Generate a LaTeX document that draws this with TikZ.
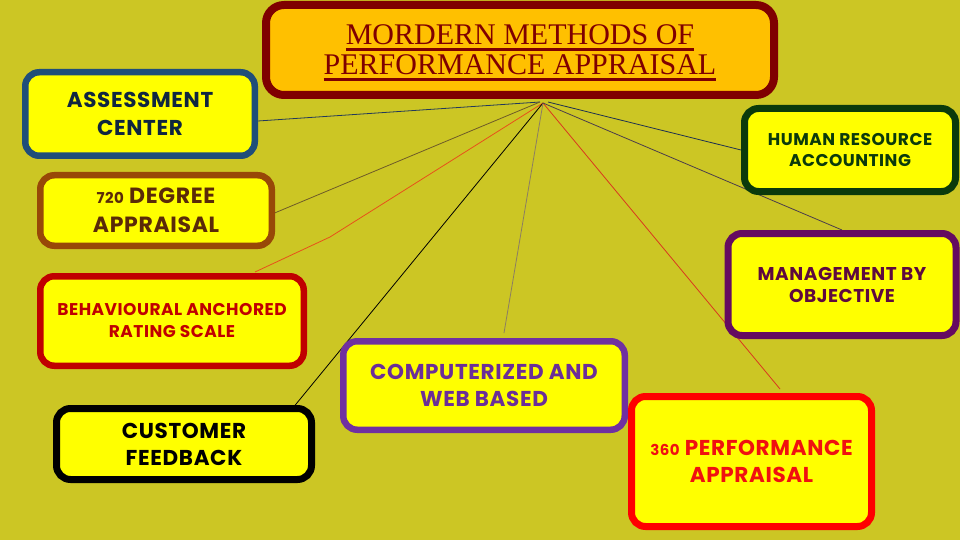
\documentclass[tikz,border=0pt]{standalone}
\usepackage{fontspec}
\setmainfont{Poppins}[LetterSpace=3]
\newfontfamily\titlefont{Liberation Serif}
\usetikzlibrary{calc}
\pgfdeclarelayer{bg}
\pgfdeclarelayer{wires}
\pgfsetlayers{bg,wires,main}
\definecolor{bgc}{HTML}{CCC624}
\definecolor{boxfill}{HTML}{FFFF00}
\definecolor{titleb}{HTML}{7F0000}
\definecolor{titlef}{HTML}{FFC000}
\definecolor{ascB}{HTML}{1F4E79}
\definecolor{ascT}{HTML}{0F2640}
\definecolor{dB}{HTML}{984807}
\definecolor{dT}{HTML}{5A2A08}
\definecolor{behB}{HTML}{C00000}
\definecolor{custB}{HTML}{000000}
\definecolor{compB}{HTML}{7030A0}
\definecolor{compT}{HTML}{6B2E98}
\definecolor{hrB}{HTML}{0B3A0B}
\definecolor{mboB}{HTML}{650B60}
\definecolor{mboT}{HTML}{5E0A3E}
\definecolor{pB}{HTML}{FF0000}
\definecolor{pT}{HTML}{F01010}
\definecolor{wAsc}{HTML}{23395B}
\definecolor{wDeg}{HTML}{6E5A28}
\definecolor{wBeh}{HTML}{E8501A}
\definecolor{wComp}{HTML}{8C7E62}
\definecolor{wP}{HTML}{D9381E}
\definecolor{wMbo}{HTML}{4B3D4B}
\definecolor{wHr}{HTML}{1E3050}
\newlength\ulw
\newcommand\myul[1]{\settowidth\ulw{#1}\rlap{\smash{\rule[-6pt]{\ulw}{2.6pt}}}#1}
\begin{document}
\begin{tikzpicture}[x=1pt,y=-1pt,
  box/.style={draw, fill=boxfill, rounded corners=14pt, line width=6.5pt, inner sep=0pt, align=center},
  wire/.style={line width=0.8pt}]
\begin{pgfonlayer}{bg}
\fill[bgc] (0,0) rectangle (960,540);
\end{pgfonlayer}
\useasboundingbox (0,0) rectangle (960,540);

\node[box, draw=titleb, fill=titlef, line width=8pt, rounded corners=18pt, minimum width=508pt, minimum height=90pt, text=titleb, font=\titlefont\fontsize{30}{30}\selectfont] (title) at (520,50) {\myul{MORDERN METHODS OF}\\\myul{PERFORMANCE APPRAISAL}};

\node[box, draw=ascB, text=ascT, minimum width=229.5pt, minimum height=83.5pt, font=\bfseries\fontsize{21.5}{28}\selectfont] (asc) at (140,114) {ASSESSMENT\\CENTER};

\node[box, draw=dB, text=dT, minimum width=231.5pt, minimum height=70.5pt, font=\bfseries\fontsize{22}{29}\selectfont] (deg) at (156,210.5) {{\fontsize{15}{15}\selectfont 720} DEGREE\\APPRAISAL};

\node[box, draw=behB, text=behB, minimum width=263.5pt, minimum height=89.5pt, font=\bfseries\fontsize{17}{22}\selectfont] (beh) at (172,321) {BEHAVIOURAL ANCHORED\\RATING SCALE};

\node[box, draw=custB, text=custB, line width=7pt, minimum width=255pt, minimum height=71pt, font=\bfseries\fontsize{21.5}{27}\selectfont] (cust) at (184,444) {CUSTOMER\\FEEDBACK};

\node[box, draw=compB, text=compT, minimum width=281.5pt, minimum height=88.5pt, font=\bfseries\fontsize{21.5}{27}\selectfont] (comp) at (484,385.5) {COMPUTERIZED AND\\WEB BASED};

\node[box, draw=hrB, text=hrB, line width=7pt, minimum width=211pt, minimum height=83pt, font=\bfseries\fontsize{17}{21}\selectfont] (hr) at (850,150) {HUMAN RESOURCE\\ACCOUNTING};

\node[box, draw=mboB, text=mboT, line width=7pt, minimum width=228pt, minimum height=102pt, font=\bfseries\fontsize{18.5}{22}\selectfont] (mbo) at (842,284.5) {MANAGEMENT BY\\OBJECTIVE};

\node[box, draw=pB, text=pT, line width=7pt, minimum width=240pt, minimum height=130pt, font=\bfseries\fontsize{21.5}{27}\selectfont] (p360) at (751.5,461.5) {{\fontsize{15}{15}\selectfont 360} PERFORMANCE\\APPRAISAL};

\coordinate (hub) at (543,103);
\coordinate (hubl) at (540,102);
\coordinate (bend) at (330,237);

\begin{pgfonlayer}{wires}
\draw[wire, wAsc] ($(asc.east)+(0,7)$) -- (hubl);
\draw[wire, wDeg] ($(deg.east)+(-4,4)$) -- (hubl);
\draw[wire, wBeh] ($(beh.center)+(83,-49)$) -- (bend) -- (hub);
\draw[wire, black] ($(cust.north east)+(-23,4)$) -- (hub);
\draw[wire, wComp] ($(comp.north)+(20,-5)$) -- (hub);
\draw[wire, wP] ($(p360.north)+(28.5,-4)$) -- (hub);
\draw[wire, wMbo] (mbo.north) -- (hub);
\draw[wire, wHr] ($(title.south)+(28,3)$) -- (hr.west);
\end{pgfonlayer}
\end{tikzpicture}
\end{document}
